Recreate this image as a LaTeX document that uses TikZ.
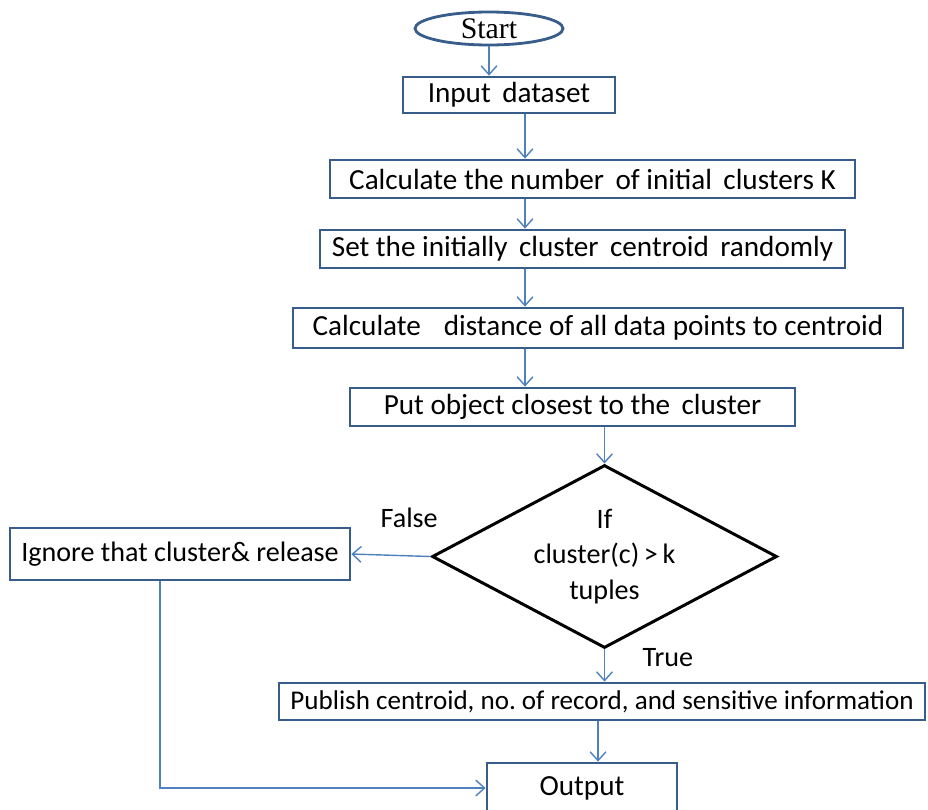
\documentclass[tikz,border=0pt]{standalone}
\usepackage{fontspec}
\setmainfont{Carlito}
\newfontfamily\startfont{Liberation Serif}
\usetikzlibrary{arrows.meta,shapes.geometric,positioning}
\frenchspacing

\definecolor{boxblue}{HTML}{385D8A}
\definecolor{linkblue}{HTML}{4F81BD}

\tikzset{
    process/.style = {draw=boxblue, line width=1.6pt, rectangle, fill=white,
                      font=\fontsize{16.6}{19}\selectfont, inner sep=2pt},
    startstop/.style = {draw=boxblue, line width=1.6pt, ellipse, inner sep=0pt,
                        font=\startfont\fontsize{17}{20}\selectfont},
    decision/.style = {draw=black, line width=1.7pt, diamond, inner sep=0pt,
                       aspect=1.885, align=center, font=\fontsize{16}{20}\selectfont},
    arr/.style = {draw=linkblue, line width=0.8pt,
                  -{Straight Barb[length=5pt,width=9pt]}},
    lbl/.style = {font=\fontsize{16}{19}\selectfont, inner sep=0pt}
}

\begin{document}
\begin{tikzpicture}[x=0.02cm, y=-0.02cm]
                \useasboundingbox (0,0) rectangle (928,809);
                \clip (0,0) rectangle (928,809);

                % columns the connectors run along
                \coordinate (colA) at (525,0);
                \coordinate (colC) at (598,0);
                \coordinate (colD) at (160,0);

                \node (start) [startstop, minimum width=2.96cm, minimum height=0.66cm] at (489,28.5) {Start};
                \node (inp) [process, minimum width=4.24cm, minimum height=0.72cm] at (509,95) {Input\, dataset};
                \node (calc) [process, minimum width=10.5cm, minimum height=0.76cm] at (592.5,179) {Calculate the number\, of initial\, clusters K};
                \node (set) [process, minimum width=10.5cm, minimum height=0.76cm] at (582.5,249) {Set the initially\, cluster\, centroid\, randomly};
                \node (dist) [process, minimum width=12.2cm, minimum height=0.8cm] at (598,328) {Calculate\, \, distance of all data points to centroid};
                \node (put) [process, minimum width=8.9cm, minimum height=0.76cm] at (572.5,407) {Put object closest to the\, cluster};
                \node (dec) [decision, minimum width=6.9cm, minimum height=3.66cm] at (604.5,556.5) {If\\cluster(c)\,>\,k\\tuples};
                \node (ign) [process, font=\fontsize{16}{19}\selectfont, minimum width=6.8cm, minimum height=1.04cm] at (180,554) {Ignore that cluster\& release};
                \node (pub) [process, font=\fontsize{15.4}{19}\selectfont, minimum width=12.92cm, minimum height=0.74cm] at (602,701.5) {Publish centroid, no. of record, and sensitive information};
                \node (out) [process, minimum width=3.8cm, minimum height=1cm] at (582,788) {Output};

                \path [every edge/.style={arr}]
                    (start) edge (start.south |- inp.north)
                    (inp.south -| colA) edge (calc.north -| colA)
                    (calc.south -| colA) edge (set.north -| colA)
                    (set.south -| colA) edge (dist.north -| colA)
                    (dist.south -| colA) edge (put.north -| colA)
                    (dec.north |- put.south) edge (dec.north)
                    (dec.west) edge node [lbl, pos=0.27, above=0.55cm] {False} (ign.east)
                    (dec.south) edge node [lbl, pos=0.25, right=0.75cm] {True} (pub.north -| dec.south)
                    (pub.south -| colC) edge (out.north -| colC);
                \draw [arr] (ign.south -| colD) |- (out.west);
            \end{tikzpicture}
\end{document}
